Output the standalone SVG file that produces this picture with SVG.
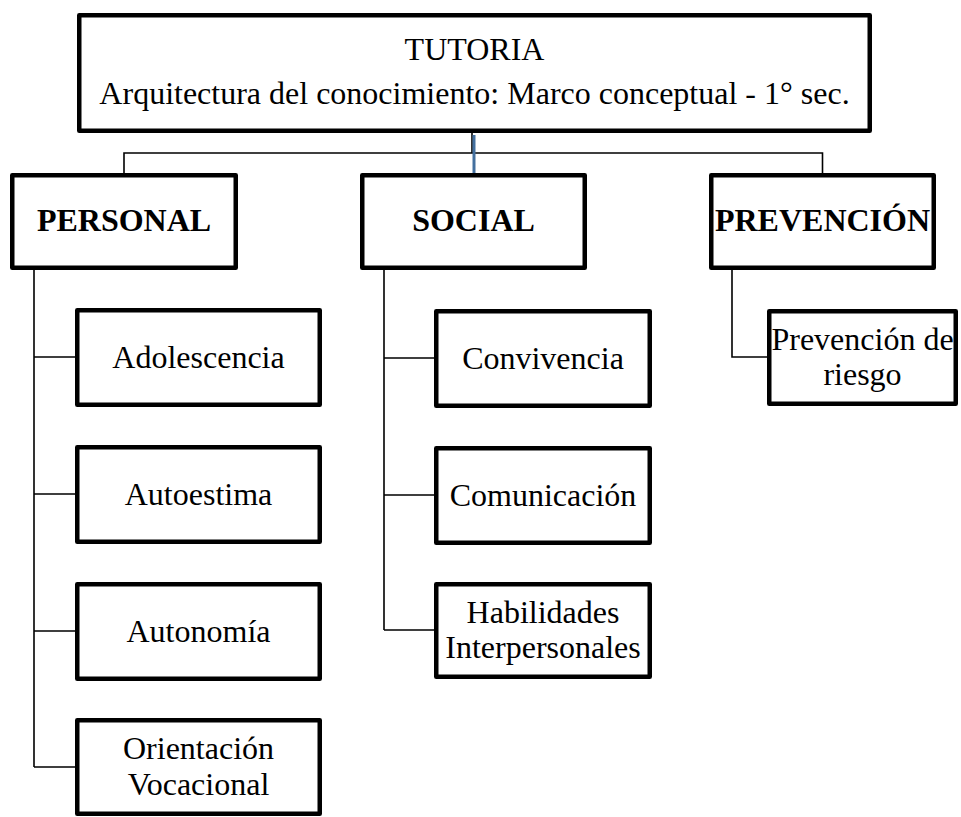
<svg xmlns="http://www.w3.org/2000/svg" width="961" height="817" viewBox="0 0 961 817">
<style>
.box{fill:#fff;stroke:#000;stroke-width:4.5;stroke-linejoin:round}
.t{font-family:"Liberation Serif","Times New Roman",serif;font-size:32px;fill:#000;text-anchor:middle}
.b{font-weight:bold}
.c{fill:none;stroke:#000;stroke-width:1.6}
</style>
<rect width="961" height="817" fill="#fff"/>
<g id="connectors">
<path class="c" d="M124 173V153H822.5V173"/>
<path class="c" d="M472 133V153"/>
<path d="M474 135V173" fill="none" stroke="#44709f" stroke-width="3"/>
<path class="c" d="M34 270V767M34 357H75M34 494H75M34 631H75M34 767H75"/>
<path class="c" d="M384 270V630M384 358H434M384 495H434M384 630H434"/>
<path class="c" d="M732 270V357H767"/>
</g>
<g id="tutoria">
<rect class="box" x="79.25" y="15.25" width="790.5" height="115.5"/>
<text class="t" x="474.5" y="60">TUTORIA</text>
<text class="t" x="474.5" y="104">Arquitectura del conocimiento: Marco conceptual - 1° sec.</text>
</g>
<g id="personal">
<rect class="box" x="12.25" y="175.25" width="223.5" height="92.5"/>
<text class="t b" x="124" y="231">PERSONAL</text>
</g>
<g id="social">
<rect class="box" x="362.25" y="175.25" width="222.5" height="92.5"/>
<text class="t b" x="473.5" y="231">SOCIAL</text>
</g>
<g id="prevencion">
<rect class="box" x="711.25" y="175.25" width="222.5" height="92.5"/>
<text class="t b" x="822.5" y="231">PREVENCIÓN</text>
</g>
<g id="adolescencia">
<rect class="box" x="77.25" y="310.25" width="242.5" height="94.5"/>
<text class="t" x="198.5" y="368">Adolescencia</text>
</g>
<g id="autoestima">
<rect class="box" x="77.25" y="447.25" width="242.5" height="94.5"/>
<text class="t" x="198.5" y="505">Autoestima</text>
</g>
<g id="autonomia">
<rect class="box" x="77.25" y="584.25" width="242.5" height="94.5"/>
<text class="t" x="198.5" y="642">Autonomía</text>
</g>
<g id="orientacion">
<rect class="box" x="77.25" y="720.25" width="242.5" height="93.5"/>
<text class="t" x="198.5" y="759">Orientación</text>
<text class="t" x="198.5" y="795">Vocacional</text>
</g>
<g id="convivencia">
<rect class="box" x="436.25" y="311.25" width="213.5" height="94.5"/>
<text class="t" x="543" y="369">Convivencia</text>
</g>
<g id="comunicacion">
<rect class="box" x="436.25" y="448.25" width="213.5" height="94.5"/>
<text class="t" x="543" y="506">Comunicación</text>
</g>
<g id="habilidades">
<rect class="box" x="436.25" y="584.25" width="213.5" height="92.5"/>
<text class="t" x="543" y="623">Habilidades</text>
<text class="t" x="543" y="658">Interpersonales</text>
</g>
<g id="prevencion-riesgo">
<rect class="box" x="769.25" y="311.25" width="186.5" height="92.5"/>
<text class="t" x="862.5" y="350">Prevención de</text>
<text class="t" x="862.5" y="385">riesgo</text>
</g>
</svg>
